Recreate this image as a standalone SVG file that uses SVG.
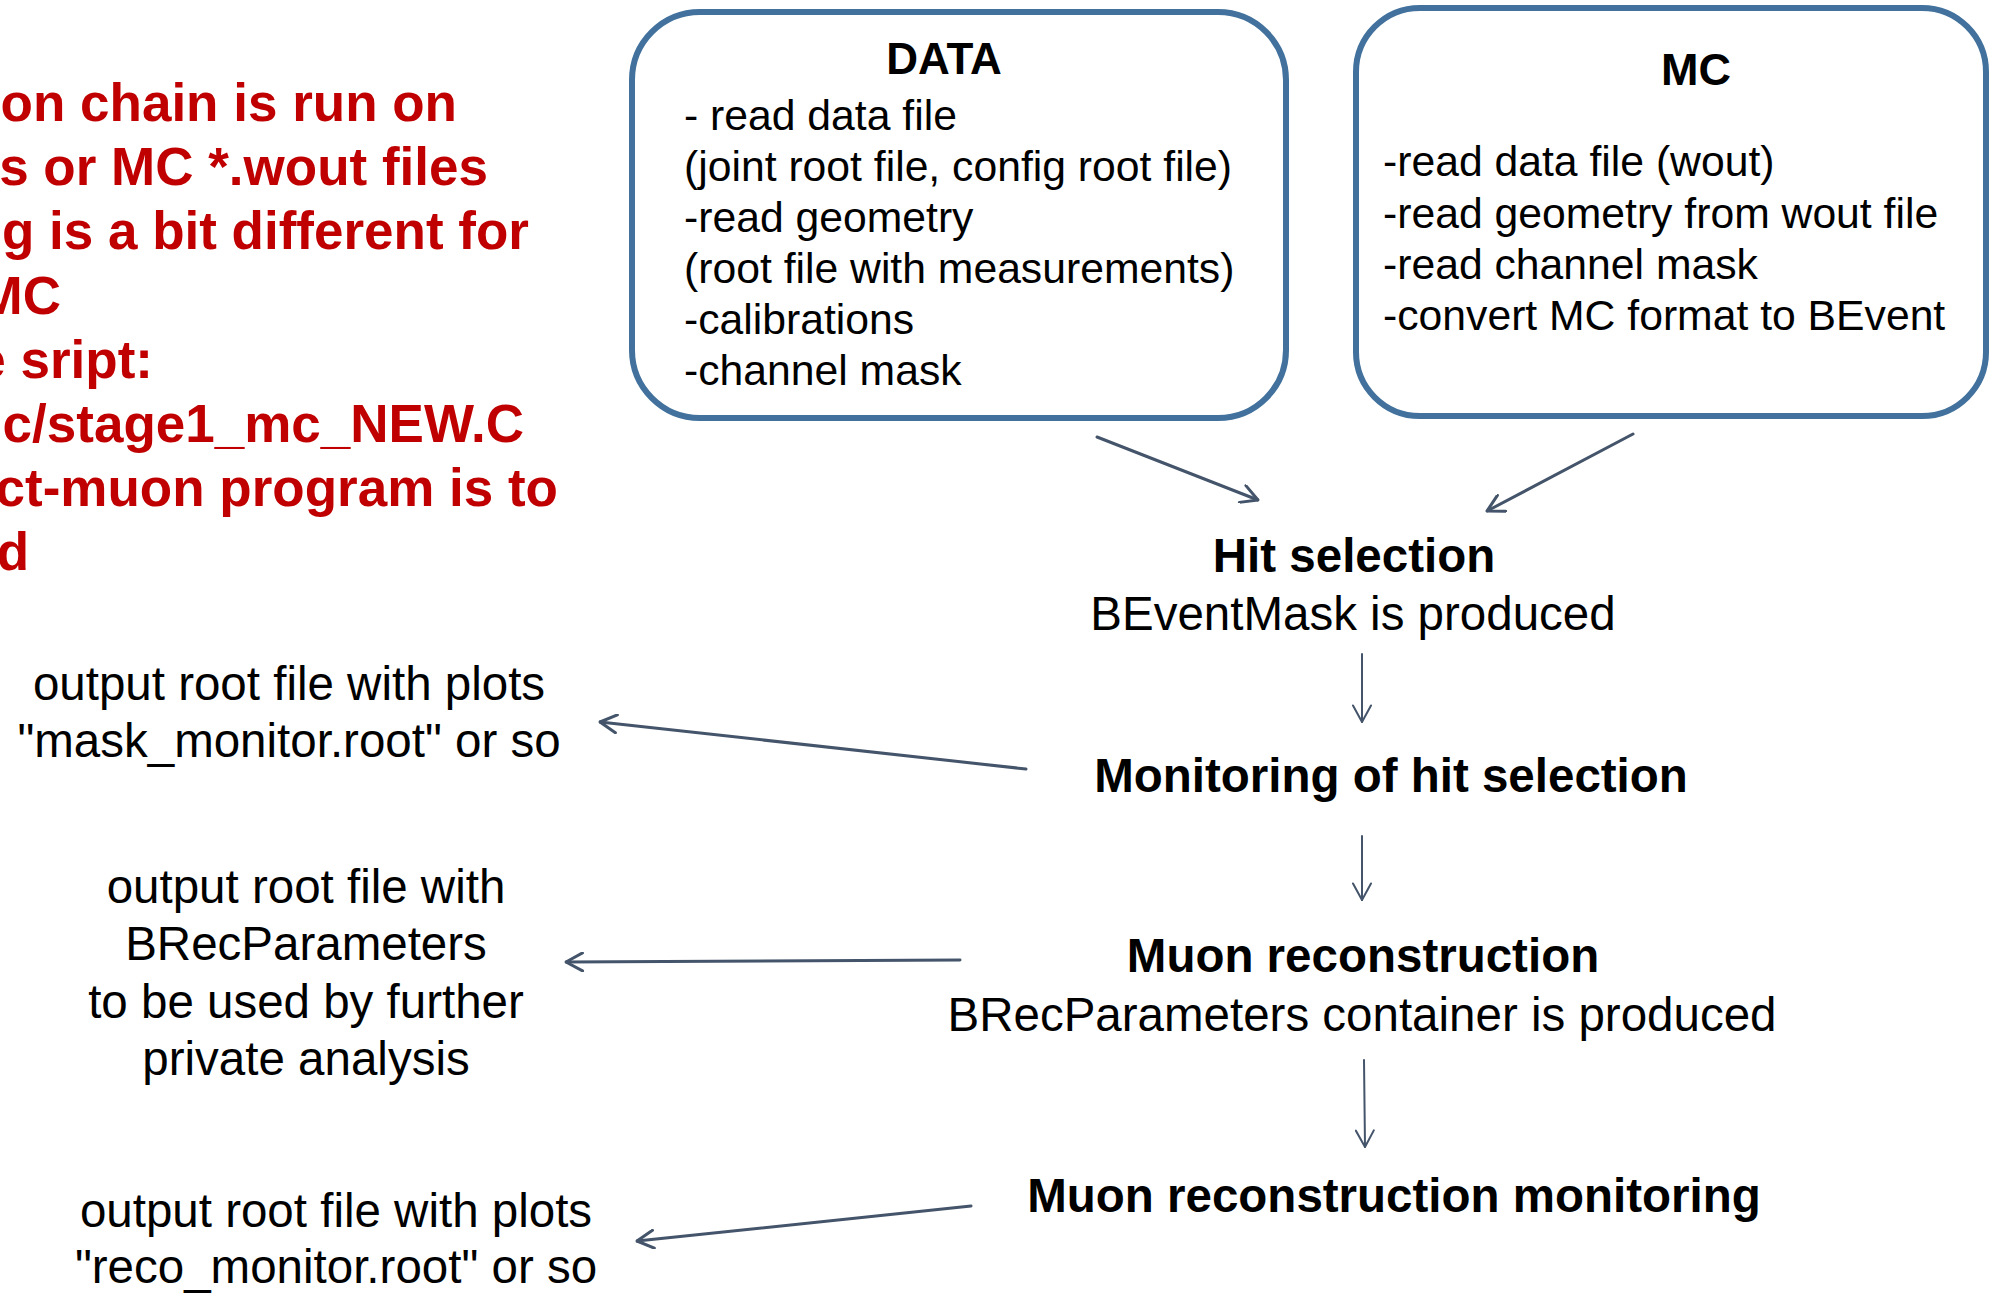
<svg xmlns="http://www.w3.org/2000/svg" width="1996" height="1293" viewBox="0 0 1996 1293">
<style>
  .red { font-family: "Liberation Sans", Arial, sans-serif; font-weight: bold; font-size: 53px; fill: #C00000; text-anchor: end; }
  .box { fill: #FFFFFF; stroke: #41719C; stroke-width: 6; }
  .ttl { font-family: "Liberation Sans", Arial, sans-serif; font-weight: bold; font-size: 44px; fill: #000; text-anchor: middle; }
  .bt { font-family: "Liberation Sans", Arial, sans-serif; font-size: 42.7px; fill: #000; }
  .hb { font-family: "Liberation Sans", Arial, sans-serif; font-weight: bold; font-size: 47.5px; fill: #000; text-anchor: middle; }
  .hr { font-family: "Liberation Sans", Arial, sans-serif; font-size: 47.5px; fill: #000; text-anchor: middle; }
  .c { fill: none; stroke: #44546A; stroke-linecap: round; }
  .thick { stroke-width: 3; marker-end: url(#ah); }
  .thin { stroke-width: 2; marker-end: url(#ah2); }
</style>
<defs>
  <marker id="ah" viewBox="0 0 20 20" refX="19" refY="10" markerWidth="20" markerHeight="20" markerUnits="userSpaceOnUse" orient="auto">
    <path d="M2.5,1 L19,10 L2.5,19" fill="none" stroke="#44546A" stroke-width="3" stroke-linecap="round" stroke-linejoin="round"/>
  </marker>
  <marker id="ah2" viewBox="0 0 20 20" refX="19" refY="10" markerWidth="20" markerHeight="20" markerUnits="userSpaceOnUse" orient="auto">
    <path d="M2.5,1 L19,10 L2.5,19" fill="none" stroke="#44546A" stroke-width="2" stroke-linecap="round" stroke-linejoin="round"/>
  </marker>
</defs>
<rect width="1996" height="1293" fill="#FFFFFF"/>

<g id="intro-text">
  <text class="red" x="457" y="121">on chain is run on</text>
  <text class="red" x="488" y="185">s or MC *.wout files</text>
  <text class="red" x="529" y="249">g is a bit different for</text>
  <text class="red" x="61" y="314">MC</text>
  <text class="red" x="153" y="378">e sript:</text>
  <text class="red" x="524" y="442">c/stage1_mc_NEW.C</text>
  <text class="red" x="558" y="506">ct-muon program is to</text>
  <text class="red" x="29" y="570">d</text>
</g>

<g id="connectors">
  <line class="c thick" x1="1097" y1="437" x2="1258" y2="500"/>
  <line class="c thick" x1="1633" y1="434" x2="1487" y2="511"/>
  <line class="c thin" x1="1362" y1="654" x2="1362" y2="722"/>
  <line class="c thin" x1="1362" y1="836" x2="1362" y2="900"/>
  <line class="c thin" x1="1364" y1="1060" x2="1365" y2="1147"/>
  <line class="c thick" x1="1026" y1="769" x2="600" y2="722"/>
  <line class="c thick" x1="960" y1="960" x2="566" y2="962"/>
  <line class="c thick" x1="971" y1="1206" x2="637" y2="1241"/>
</g>

<g id="data">
  <rect class="box" x="632" y="12" width="654" height="406" rx="68" ry="68"/>
  <text class="ttl" x="944" y="74">DATA</text>
  <text class="bt" x="684" y="130">- read data file</text>
  <text class="bt" x="684" y="181">(joint root file, config root file)</text>
  <text class="bt" x="684" y="232">-read geometry</text>
  <text class="bt" x="684" y="283">(root file with measurements)</text>
  <text class="bt" x="684" y="334">-calibrations</text>
  <text class="bt" x="684" y="385">-channel mask</text>
</g>

<g id="mc">
  <rect class="box" x="1356" y="8" width="630" height="408" rx="64" ry="64"/>
  <text class="ttl" x="1696" y="85" style="font-size:45px">MC</text>
  <text class="bt" x="1383" y="176">-read data file (wout)</text>
  <text class="bt" x="1383" y="228">-read geometry from wout file</text>
  <text class="bt" x="1383" y="279">-read channel mask</text>
  <text class="bt" x="1383" y="330">-convert MC format to BEvent</text>
</g>

<g id="hit-selection">
  <text class="hb" x="1354" y="572">Hit selection</text>
  <text class="hr" x="1353" y="630">BEventMask is produced</text>
</g>

<g id="monitoring-hit">
  <text class="hb" x="1391" y="792">Monitoring of hit selection</text>
</g>

<g id="muon-reco">
  <text class="hb" x="1363" y="972">Muon reconstruction</text>
  <text class="hr" x="1362" y="1031">BRecParameters container is produced</text>
</g>

<g id="muon-reco-monitoring">
  <text class="hb" x="1394" y="1212">Muon reconstruction monitoring</text>
</g>

<g id="out-mask">
  <text class="hr" x="289" y="700">output root file with plots</text>
  <text class="hr" x="289" y="757">"mask_monitor.root" or so</text>
</g>

<g id="out-brec">
  <text class="hr" x="306" y="903">output root file with</text>
  <text class="hr" x="306" y="960">BRecParameters</text>
  <text class="hr" x="306" y="1018">to be used by further</text>
  <text class="hr" x="306" y="1075">private analysis</text>
</g>

<g id="out-reco">
  <text class="hr" x="336" y="1227">output root file with plots</text>
  <text class="hr" x="336" y="1283">"reco_monitor.root" or so</text>
</g>
</svg>
